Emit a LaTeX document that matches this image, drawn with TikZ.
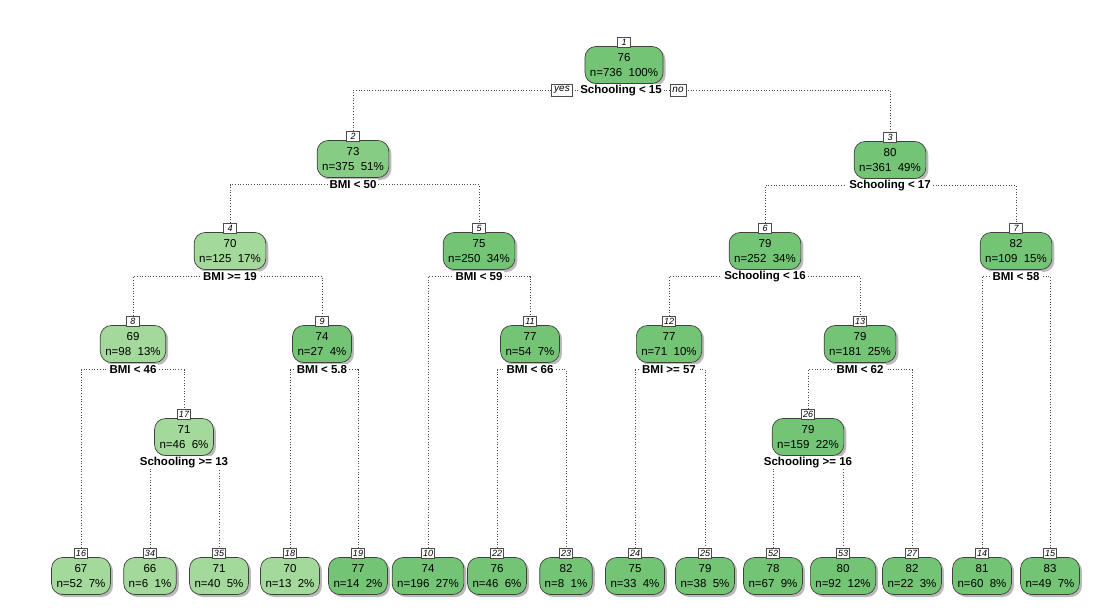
\documentclass[tikz,border=0pt]{standalone}
\usepackage{fontspec}
\setmainfont{Liberation Sans}
\usetikzlibrary{shadows,backgrounds}
\definecolor{lg}{HTML}{A3D99A}
\definecolor{mg}{HTML}{86CC84}
\definecolor{dg}{HTML}{74C476}
\tikzset{
 box/.style={draw=black!75, line width=0.7pt, rounded corners=11pt, minimum height=37pt,
   inner xsep=5pt, inner ysep=2pt, align=center, font=\fontsize{11.5}{14.5}\selectfont,
   drop shadow={shadow xshift=2.5pt, shadow yshift=-2.5pt, fill=black!45, opacity=0.6}},
 numbox/.style={draw=black!70, fill=white, line width=0.5pt, inner sep=1pt, minimum width=13pt,
   minimum height=10pt, font=\fontsize{9}{9}\selectfont\itshape},
 split/.style={fill=white, inner xsep=2pt, inner ysep=1pt, font=\fontsize{11.5}{12}\selectfont\bfseries},
 yn/.style={draw=black!70, fill=white, line width=0.5pt, inner xsep=2.5pt, inner ysep=1pt,
   minimum height=12pt, font=\fontsize{10}{10}\selectfont\itshape},
 conn/.style={dotted, line width=0.7pt, black!70},
}
\newcommand\inode[7]{% id, x, y, value, n-line, fill, split
 \node[box, fill=#6] (n#1) at (#2,#3) {#4\\#5};
 \node[numbox] (k#1) at (#2,#3-23) {#1};
 \node[split] (s#1) at (#2,#3+25.5) {#7};
}
\newcommand\tleaf[6]{% id, x, y, value, n-line, fill
 \node[box, fill=#6] (n#1) at (#2,#3) {#4\\#5};
 \node[numbox] (k#1) at (#2,#3-23) {#1};
}
\begin{document}
\begin{tikzpicture}[x=1pt,y=-1pt]
\useasboundingbox (0,0) rectangle (1118,615);
% internal nodes
\node[box, fill=dg] (n1) at (624,65) {76\\n=736\ \ 100\%};
\node[numbox] (k1) at (624,42) {1};
\node[split] (s1) at (621,90.5) {Schooling < 15};
\node[yn] (yes) at (562,90) {yes};
\node[yn] (no) at (678,90) {no};
\inode{2}{353}{159}{73}{n=375\ \ 51\%}{mg}{BMI < 50}
\inode{3}{890}{160}{80}{n=361\ \ 49\%}{dg}{Schooling < 17}
\inode{4}{230}{251}{70}{n=125\ \ 17\%}{lg}{BMI >= 19}
\inode{5}{479}{251}{75}{n=250\ \ 34\%}{dg}{BMI < 59}
\inode{6}{765}{251}{79}{n=252\ \ 34\%}{dg}{Schooling < 16}
\inode{7}{1016}{251}{82}{n=109\ \ 15\%}{dg}{BMI < 58}
\inode{8}{133}{344}{69}{n=98\ \ 13\%}{lg}{BMI < 46}
\inode{9}{322}{344}{74}{n=27\ \ 4\%}{dg}{BMI < 5.8}
\inode{11}{530}{344}{77}{n=54\ \ 7\%}{dg}{BMI < 66}
\inode{12}{669}{344}{77}{n=71\ \ 10\%}{dg}{BMI >= 57}
\inode{13}{860}{344}{79}{n=181\ \ 25\%}{dg}{BMI < 62}
\inode{17}{184}{437}{71}{n=46\ \ 6\%}{lg}{Schooling >= 13}
\inode{26}{808}{437}{79}{n=159\ \ 22\%}{dg}{Schooling >= 16}
% leaves
\tleaf{16}{81}{576}{67}{n=52\ \ 7\%}{lg}
\tleaf{34}{150}{576}{66}{n=6\ \ 1\%}{lg}
\tleaf{35}{219}{576}{71}{n=40\ \ 5\%}{lg}
\tleaf{18}{290}{576}{70}{n=13\ \ 2\%}{lg}
\tleaf{19}{358}{576}{77}{n=14\ \ 2\%}{dg}
\tleaf{10}{428}{576}{74}{n=196\ \ 27\%}{dg}
\tleaf{22}{497}{576}{76}{n=46\ \ 6\%}{dg}
\tleaf{23}{566}{576}{82}{n=8\ \ 1\%}{dg}
\tleaf{24}{635}{576}{75}{n=33\ \ 4\%}{dg}
\tleaf{25}{705}{576}{79}{n=38\ \ 5\%}{dg}
\tleaf{52}{773}{576}{78}{n=67\ \ 9\%}{dg}
\tleaf{53}{843}{576}{80}{n=92\ \ 12\%}{dg}
\tleaf{27}{912}{576}{82}{n=22\ \ 3\%}{dg}
\tleaf{14}{982}{576}{81}{n=60\ \ 8\%}{dg}
\tleaf{15}{1050}{576}{83}{n=49\ \ 7\%}{dg}
% connectors
\begin{scope}[on background layer]
\foreach \p/\a/\b in {1/2/3, 2/4/5, 3/6/7, 4/8/9, 5/10/11, 6/12/13, 7/14/15,
  8/16/17, 9/18/19, 11/22/23, 12/24/25, 13/26/27, 17/34/35, 26/52/53}{
  \draw[conn] (k\a.north) |- (s\p.center) -| (k\b.north);
}
\end{scope}
\end{tikzpicture}
\end{document}
